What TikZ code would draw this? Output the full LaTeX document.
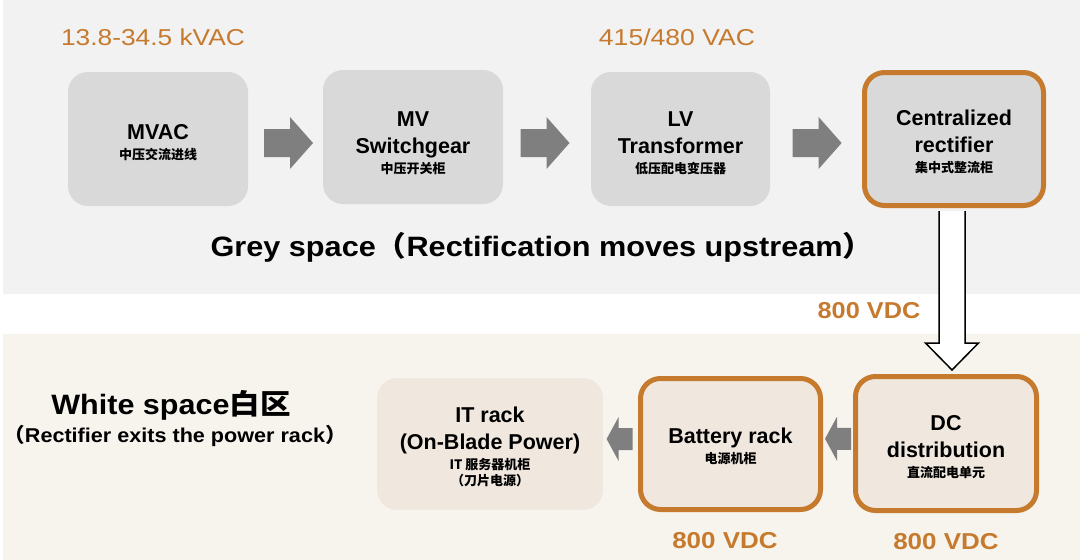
\documentclass[tikz,border=0pt]{standalone}
\usepackage{fontspec}
\usepackage{graphicx}
\setmainfont{Liberation Sans}
\newfontfamily\cjk{Noto Sans CJK SC}
\usetikzlibrary{calc}
\definecolor{bggrey}{HTML}{F2F2F2}
\definecolor{bgbeige}{HTML}{F7F4EE}
\definecolor{boxgrey}{HTML}{D9D9D9}
\definecolor{boxbeige}{HTML}{F0E8DF}
\definecolor{accent}{HTML}{C67A2E}
\definecolor{arrowgray}{HTML}{7F7F7F}
\newcommand\zh{\cjk\bfseries\fontsize{13}{15}\selectfont}
\begin{document}
\begin{tikzpicture}[x=1pt,y=-1pt,
  box/.style={rounded corners=20pt, fill=boxgrey, inner sep=0pt},
  lowbox/.style={box, fill=boxbeige},
  hot/.style={draw=accent, line width=5pt},
  boxtext/.style={align=center, inner sep=0pt, font=\bfseries\fontsize{21.5}{27}\selectfont},
  volt/.style={text=accent, font=\fontsize{23}{27}\selectfont, inner sep=0pt},
  voltb/.style={volt, font=\bfseries\fontsize{23}{27}\selectfont},
  hollow/.style={draw=black, line width=1.5pt, fill=white, line join=miter},
  rblock/.pic={\fill[arrowgray] (-24.5,-14) -- (1.5,-14) -- (1.5,-26) -- (24.5,0) -- (1.5,26) -- (1.5,14) -- (-24.5,14) -- cycle;},
  lblock/.pic={\fill[arrowgray] (13,-11) -- (-1,-11) -- (-1,-22) -- (-13,0) -- (-1,22) -- (-1,11) -- (13,11) -- cycle;}
]
\useasboundingbox (0,0) rectangle (1080,560);
% background bands
\fill[bggrey] (3,0) rectangle (1080,294);
\fill[bgbeige] (3,334) rectangle (1080,560);

% top row
\node[box, minimum width=180, minimum height=134] (mvac) at (158,139) {};
\node[box, minimum width=180, minimum height=134] (mv) at (413,137) {};
\node[box, minimum width=179, minimum height=134] (lv) at (680.5,139) {};
\node[box, hot, minimum width=179, minimum height=133] (cr) at (954,139) {};
\node[boxtext] (mvac-t) at ($(mvac.center)+(0,4)$) {MVAC\\[-7pt]{\zh 中压交流进线}};
\node[boxtext] (mv-t) at ($(mv.center)+(0,6)$) {MV\\Switchgear\\[-7pt]{\zh 中压开关柜}};
\node[boxtext] (lv-t) at ($(lv.center)+(0,4)$) {LV\\Transformer\\[-7pt]{\zh 低压配电变压器}};
\node[boxtext] (cr-t) at ($(cr.center)+(0,3)$) {Centralized\\rectifier\\[-7pt]{\zh 集中式整流柜}};

% bottom row
\node[lowbox, minimum width=226, minimum height=132] (it) at (490,444) {};
\node[lowbox, hot, minimum width=180, minimum height=131] (bat) at (730.5,444) {};
\node[lowbox, hot, minimum width=181, minimum height=134] (dc) at (946,443.5) {};
\node[boxtext] (it-t) at ($(it.center)+(0,3)$) {IT rack\\(On-Blade Power)\\[-7pt]{\zh IT 服务器机柜}\\[-11pt]{\zh （刀片电源）}};
\node[boxtext] (bat-t) at ($(bat.center)+(0,2)$) {Battery rack\\[-7pt]{\zh 电源机柜}};
\node[boxtext] (dc-t) at ($(dc.center)+(0,4)$) {DC\\distribution\\[-7pt]{\zh 直流配电单元}};

% gray block arrows
\pic at ($($(mvac.east)!0.5!(mv.west)$)+(3,5)$) {rblock};
\pic at ($($(mv.east)!0.5!(lv.west)$)+(-2,5)$) {rblock};
\pic at ($($(lv.east)!0.5!(cr.west)$)+(1,4)$) {rblock};
\pic at ($($(it.east)!0.5!(bat.west)$)+(-1,-5)$) {lblock};
\pic at ($($(bat.east)!0.5!(dc.west)$)+(0,-5)$) {lblock};

% hollow down arrow
\coordinate (vtop) at ($(cr.south)+(-2,3)$);
\coordinate (vtip) at ($(vtop |- dc.north)+(0,-4)$);
\draw[hollow] ($(vtop)+(-13,0)$) -- ($(vtip)+(-13,-27)$) -- ($(vtip)+(-26.5,-27)$) -- (vtip)
  -- ($(vtip)+(26.5,-27)$) -- ($(vtip)+(13,-27)$) -- ($(vtop)+(13,0)$);

% labels
\node[volt] (v1) at (153,37) {\scalebox{1.145}[1]{13.8-34.5 kVAC}};
\node[volt] (v2) at (677,37) {\scalebox{1.155}[1]{415/480 VAC}};
\node[voltb] (v3) at (869,311) {\scalebox{1.1}[1]{800 VDC}};
\node[voltb] (v4) at (725,541) {\scalebox{1.13}[1]{800 VDC}};
\node[voltb] (v5) at (946,542) {\scalebox{1.13}[1]{800 VDC}};
\node[inner sep=0pt, font=\bfseries\fontsize{28}{32}\selectfont] (grey) at (542,247)
  {\scalebox{1.095}[1]{Grey space{\cjk （}Rectification moves upstream{\cjk ）}}};
\node[inner sep=0pt, font=\bfseries\fontsize{28}{32}\selectfont] (white) at (171,405)
  {\scalebox{1.09}[1]{White space{\cjk 白区}}};
\node[inner sep=0pt, font=\bfseries\fontsize{20}{24}\selectfont] (whitesub) at (175,436)
  {\scalebox{1.08}[1]{{\cjk （}Rectifier exits the power rack{\cjk ）}}};
\end{tikzpicture}
\end{document}
